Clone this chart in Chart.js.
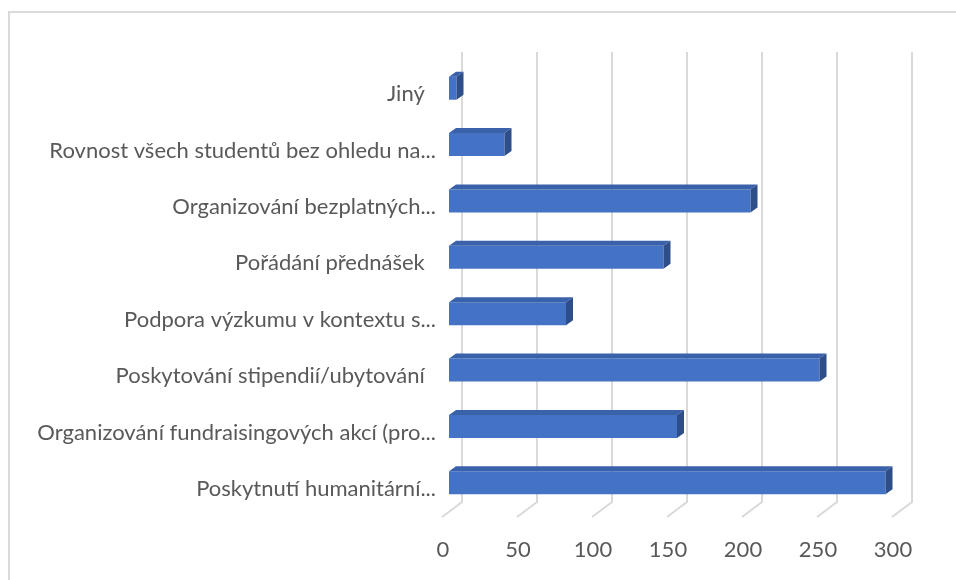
<!DOCTYPE html>
<html>
<head>
<meta charset="utf-8">
<script src="https://cdn.jsdelivr.net/npm/chart.js@4.4.1/dist/chart.umd.min.js"></script>
<style>
  body { margin: 0; background: #fff; }
  #wrap { width: 956px; height: 580px; }
</style>
</head>
<body>
<div id="wrap"><canvas id="graf" width="956" height="580"></canvas></div>
<script>
// kategorie (odshora dolu)
const kategorie = [
  "Jiný  ",
  "Rovnost všech studentů bez ohledu na...",
  "Organizování bezplatných...",
  "Pořádání přednášek  ",
  "Podpora výzkumu v kontextu s...",
  "Poskytování stipendií/ubytování  ",
  "Organizování fundraisingových akcí (pro...",
  "Poskytnutí humanitární..."
];
const hodnoty = [5, 37, 201, 143, 78, 247, 152, 291];
const osaX = [0, 50, 100, 150, 200, 250, 300];

const barva = "#4472C4";
const barvaHorni = "#3A62AA";
const barvaBok = "#2D4E88";
const sedaMrizka = "#d9d9d9";
const hloubka = { dx: 7, dy: -5 };

// 3D vzhled - zadni stena, podlaha, horni a bocni strana sloupcu
const plugin3d = {
  id: "plugin3d",
  beforeDraw(c) {
    const ctx = c.ctx;
    ctx.save();
    ctx.strokeStyle = sedaMrizka;
    ctx.lineWidth = 2;
    ctx.strokeRect(9, 12, 1000, 1000);
    ctx.restore();
  },
  beforeDatasetsDraw(c) {
    const ctx = c.ctx;
    const sx = c.scales.x;
    const a = c.chartArea;
    ctx.save();
    ctx.strokeStyle = sedaMrizka;
    ctx.lineWidth = 2;
    osaX.forEach(v => {
      const xb = sx.getPixelForValue(v) + 13;
      ctx.beginPath();
      ctx.moveTo(xb, a.top - 8);
      ctx.lineTo(xb, a.bottom - 9);
      ctx.lineTo(xb - 20, a.bottom + 6);
      ctx.stroke();
    });
    ctx.restore();
  },
  afterDatasetsDraw(c) {
    const ctx = c.ctx;
    const meta = c.getDatasetMeta(0);
    ctx.save();
    meta.data.forEach(bar => {
      const p = bar.getProps(["x", "y", "base", "height"], true);
      const top = p.y - p.height / 2;
      const bottom = p.y + p.height / 2;
      const { dx, dy } = hloubka;
      // horni strana
      ctx.fillStyle = barvaHorni;
      ctx.beginPath();
      ctx.moveTo(p.base, top);
      ctx.lineTo(p.x, top);
      ctx.lineTo(p.x + dx, top + dy);
      ctx.lineTo(p.base + dx, top + dy);
      ctx.closePath();
      ctx.fill();
      // bocni strana
      ctx.fillStyle = barvaBok;
      ctx.beginPath();
      ctx.moveTo(p.x, top);
      ctx.lineTo(p.x + dx, top + dy);
      ctx.lineTo(p.x + dx, bottom + dy);
      ctx.lineTo(p.x, bottom);
      ctx.closePath();
      ctx.fill();
    });
    ctx.restore();
  }
};

new Chart(document.getElementById("graf"), {
  type: "bar",
  data: {
    labels: kategorie,
    datasets: [{
      data: hodnoty,
      backgroundColor: barva,
      borderWidth: 0,
      barPercentage: 0.41,
      categoryPercentage: 1
    }]
  },
  options: {
    indexAxis: "y",
    responsive: false,
    animation: false,
    layout: { padding: { left: 0, top: 60, right: 57, bottom: 0 } },
    plugins: { legend: { display: false }, tooltip: { enabled: false } },
    scales: {
      x: {
        min: 0,
        max: 300,
        afterFit: s => { s.height = 69; },
        afterBuildTicks: s => { s.ticks = osaX.map(v => ({ value: v })); },
        grid: { display: false },
        border: { display: false },
        ticks: {
          color: "#595959",
          font: { family: "Lato", size: 22 },
          padding: 18,
          labelOffset: -6,
          maxRotation: 0
        }
      },
      y: {
        afterFit: s => { s.width = 449; },
        grid: { display: false },
        border: { display: false },
        ticks: {
          color: "#595959",
          font: { family: "Lato", size: 22 },
          padding: 5,
          labelOffset: 6,
          autoSkip: false
        }
      }
    }
  },
  plugins: [plugin3d]
});
</script>
</body>
</html>
